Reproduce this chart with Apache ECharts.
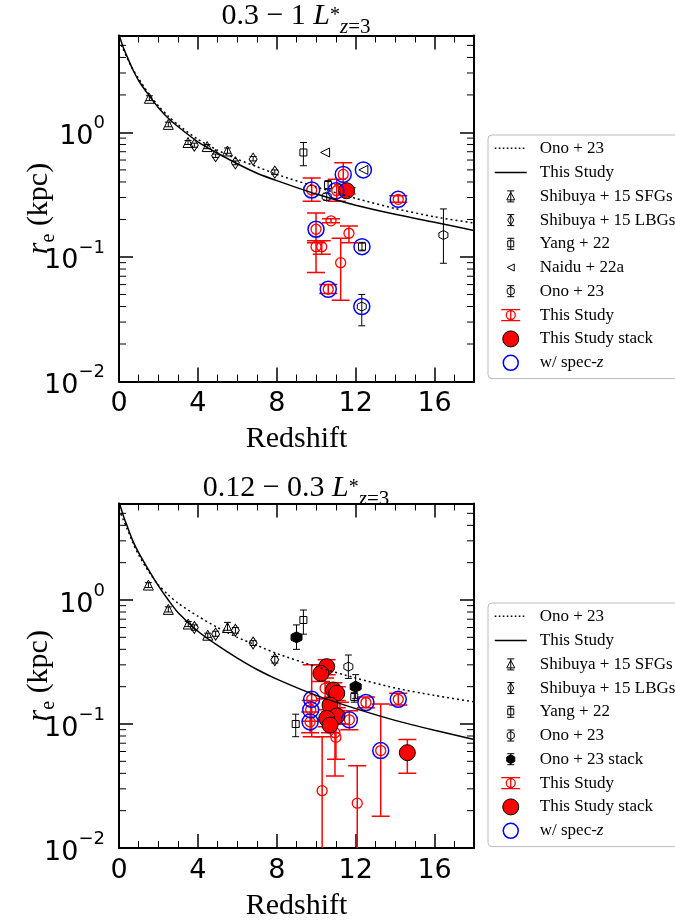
<!DOCTYPE html>
<html><head><meta charset="utf-8">
<script src="https://cdn.jsdelivr.net/npm/echarts@6/dist/echarts.min.js"></script>
<style>html,body{margin:0;padding:0;background:#fff}#c{width:675px;height:922px}</style>
</head><body><div id="c"></div>
<script>
// ---------- data ----------
const curveZ = [0, 0.2, 0.4, 0.7, 1, 1.5, 2, 2.5, 3, 4, 5, 6, 7, 8, 10, 12, 14, 16, 18];
// panel A : 0.3 - 1 L*
const A_thisCurve = [6.1, 4.9, 4.1, 3.2, 2.6, 2.0, 1.58, 1.30, 1.11, 0.84, 0.68, 0.56, 0.47, 0.41, 0.32, 0.26, 0.22, 0.19, 0.163];
const A_onoCurve  = [5.5, 4.7, 4.0, 3.2, 2.7, 2.05, 1.63, 1.35, 1.15, 0.88, 0.72, 0.61, 0.53, 0.46, 0.365, 0.295, 0.245, 0.21, 0.187];
const A_shibuyaSFG = [[1.54,1.88,1.80,1.97],[2.5,1.16,1.11,1.21],[3.5,0.83,0.80,0.86],[4.47,0.77,0.74,0.80],[5.5,0.71,0.68,0.75]];
const A_shibuyaLBG = [[3.82,0.79,0.76,0.82],[4.9,0.65,0.63,0.67],[5.9,0.57,0.55,0.59],[6.8,0.61,0.59,0.64],[7.9,0.48,0.46,0.50]];
const A_yang  = [[9.35,0.69,0.54,0.83],[10.6,0.378,0.35,0.41],[12.32,0.121,0.112,0.131]];
const A_naidu = [[10.45,0.69],[12.39,0.50]];
const A_ono   = [[10.53,0.305,0.285,0.325],[12.31,0.040,0.028,0.050],[16.45,0.15,0.089,0.243]];
const A_this  = [[9.77,0.345,0.28,0.43],[11.37,0.46,0.38,0.57],[11.04,0.34,0.28,0.42],[14.16,0.29,0.275,0.31],
                 [9.99,0.167,0.13,0.225],[9.99,0.121,0.075,0.135],[10.28,0.121,0.105,0.135],[10.75,0.195,0.188,0.203],
                 [11.66,0.155,0.13,0.177],[11.24,0.09,0.045,0.141],[10.61,0.055,0.051,0.06]];
const A_stack = [[11.54,0.34,0.32,0.36]];
const A_specz = [[9.77,0.345],[11.37,0.46],[11.0,0.34],[14.16,0.29],[9.99,0.167],[10.61,0.055],[12.39,0.50],[12.32,0.121],[12.31,0.040]];
// panel B : 0.12 - 0.3 L*
const B_thisCurve = [6.2, 4.9, 4.0, 3.0, 2.4, 1.75, 1.3, 1.0, 0.79, 0.56, 0.43, 0.34, 0.275, 0.23, 0.17, 0.133, 0.107, 0.089, 0.075];
const B_onoCurve  = [5.4, 4.5, 3.8, 2.9, 2.3, 1.7, 1.32, 1.1, 0.94, 0.74, 0.6, 0.5, 0.43, 0.37, 0.29, 0.235, 0.195, 0.17, 0.151];
const B_shibuyaSFG = [[1.49,1.32,1.26,1.38],[2.5,0.84,0.80,0.88],[3.51,0.64,0.61,0.67],[4.5,0.52,0.50,0.54],[5.5,0.60,0.57,0.66]];
const B_shibuyaLBG = [[3.82,0.60,0.57,0.63],[4.9,0.53,0.51,0.56],[5.9,0.57,0.54,0.60],[6.8,0.45,0.43,0.47],[7.9,0.33,0.31,0.35]];
const B_yang  = [[9.35,0.69,0.53,0.83],[8.96,0.10,0.079,0.12],[11.93,0.165,0.15,0.18]];
const B_ono   = [[11.63,0.29,0.233,0.36]];
const B_onoStack = [[9.0,0.50,0.40,0.63],[12.0,0.20,0.16,0.25]];
const B_this  = [[9.77,0.158,0.079,0.30],[9.72,0.13,0.105,0.155],[9.69,0.104,0.085,0.125],[10.45,0.194,0.16,0.235],
                 [10.3,0.029,0.001,0.079],[11.0,0.078,0.052,0.10],[10.95,0.085,0.038,0.11],[11.68,0.108,0.09,0.128],
                 [12.52,0.149,0.135,0.165],[14.16,0.158,0.142,0.177],[13.27,0.061,0.018,0.145],[12.08,0.023,0.001,0.046],
                 [11.2,0.12,0.10,0.15]];
const B_stack = [[10.53,0.29,0.25,0.33],[10.24,0.256,0.22,0.30],[10.87,0.188,0.165,0.215],[11.04,0.177,0.155,0.20],
                 [10.7,0.142,0.125,0.16],[11.04,0.116,0.10,0.135],[10.53,0.111,0.095,0.13],[10.7,0.098,0.085,0.115],
                 [14.62,0.0587,0.040,0.075]];
const B_specz = [[9.77,0.158],[9.72,0.13],[9.69,0.104],[11.68,0.108],[12.52,0.149],[14.16,0.158],[13.27,0.061]];
const xTickLabels = ['0','4','8','12','16'];
const minorMantissa = [2,3,4,5,6,7,8,9];
const decades = [0.01, 0.1, 1];

// ---------- styling ----------
const SERIF = "'Liberation Serif','Times New Roman',serif";
const SANS = "'DejaVu Sans',sans-serif";
const RED = '#ff0000', BLUE = '#0000ff', TR = 'rgba(0,0,0,0)';
const HEX = 'path://M0,-1L0.866,-0.5L0.866,0.5L0,1L-0.866,0.5L-0.866,-0.5Z';
const BOX = 'M0 0M34 18';
const EB = 'M13.5 3.5L20.5 3.5M17 3.5L17 14.5M13.5 14.5L20.5 14.5';
const EBR = 'M7.5 3.5L26.5 3.5M17 3.5L17 14.5M7.5 14.5L26.5 14.5';
let DOTS = '';
for (let x = 1; x < 33; x += 4) DOTS += 'M' + x + ' 9L' + (x + 1.6) + ' 9';
const IC = {
  dotted: 'path://' + BOX + DOTS,
  solid: 'path://' + BOX + 'M1 9L33 9',
  sfg: 'path://' + BOX + EB + 'M17 5L21 12.5L13 12.5Z',
  lbg: 'path://' + BOX + EB + 'M17 4L20 9L17 14L14 9Z',
  yang: 'path://' + BOX + EB + 'M14 6L20 6L20 12L14 12Z',
  naidu: 'path://' + BOX + 'M20.5 5.5L13.5 9L20.5 12.5Z',
  ono: 'path://' + BOX + EB + 'M17 5L20.5 7L20.5 11L17 13L13.5 11L13.5 7Z',
  onoStack: 'path://' + BOX + EB + 'M17 4.5L21 6.8L21 11.2L17 13.5L13 11.2L13 6.8Z',
  thisS: 'path://' + BOX + EBR + 'M21.5 9A4.5 4.5 0 1 1 12.5 9A4.5 4.5 0 1 1 21.5 9Z',
  stack: 'path://' + BOX + 'M25 9A8 8 0 1 1 9 9A8 8 0 1 1 25 9Z',
  specz: 'path://' + BOX + 'M24.5 9A7.5 7.5 0 1 1 9.5 9A7.5 7.5 0 1 1 24.5 9Z'
};
const LABELS = {
  onoC: 'Ono + 23', thisC: 'This Study', sfg: 'Shibuya + 15 SFGs', lbg: 'Shibuya + 15 LBGs', yang: 'Yang + 22',
  naidu: 'Naidu + 22a', ono: 'Ono + 23', onoStack: 'Ono + 23 stack', thisS: 'This Study', stack: 'This Study stack',
  specz: 'w/ spec-{i|z}'
};

function ebSeries(id, g, data, color, cap, lw) {
  return {
    type: 'custom', id: id, name: id, xAxisIndex: 2 * g, yAxisIndex: 2 * g, clip: true, silent: true,
    data: data.map(d => [d[0], d[2], d[3]]), encode: { x: 0, y: [1, 2] },
    renderItem: function (params, api) {
      const x = api.value(0);
      const p1 = api.coord([x, api.value(1)]), p2 = api.coord([x, api.value(2)]);
      const st = { stroke: color, lineWidth: lw };
      return { type: 'group', children: [
        { type: 'line', shape: { x1: p1[0], y1: p1[1], x2: p2[0], y2: p2[1] }, style: st },
        { type: 'line', shape: { x1: p1[0] - cap, y1: p1[1], x2: p1[0] + cap, y2: p1[1] }, style: st },
        { type: 'line', shape: { x1: p2[0] - cap, y1: p2[1], x2: p2[0] + cap, y2: p2[1] }, style: st }
      ]};
    }
  };
}
function scSeries(id, g, data, symbol, size, fill, stroke, bw, rot) {
  return {
    type: 'scatter', id: id, name: id, xAxisIndex: 2 * g, yAxisIndex: 2 * g, silent: true,
    data: data.map(d => [d[0], d[1]]), symbol: symbol, symbolSize: size, symbolRotate: rot || 0,
    itemStyle: { color: fill, borderColor: stroke, borderWidth: bw, opacity: 1 }
  };
}
function lineSeries(id, g, vals, dotted) {
  return {
    type: 'line', id: id, name: id, xAxisIndex: 2 * g, yAxisIndex: 2 * g, silent: true, symbol: 'none',
    smooth: 0.25, clip: true, data: curveZ.map((z, i) => [z, vals[i]]),
    lineStyle: { color: '#000', width: 1.5, type: dotted ? [2, 3] : 'solid' }, itemStyle: { color: '#000' }
  };
}
function minorTickSeries(id, g) {
  const vals = [];
  decades.forEach(d => minorMantissa.forEach(m => { if (m * d <= 6) vals.push([0, m * d]); }));
  return {
    type: 'custom', id: id, xAxisIndex: 2 * g, yAxisIndex: 2 * g, silent: true, clip: false, data: vals,
    encode: { x: 0, y: 1 },
    renderItem: function (params, api) {
      const v = api.value(1);
      const l = api.coord([0, v]), r = api.coord([18, v]);
      const st = { stroke: '#000', lineWidth: 1 };
      return { type: 'group', children: [
        { type: 'line', shape: { x1: l[0], y1: l[1], x2: l[0] + 7, y2: l[1] }, style: st },
        { type: 'line', shape: { x1: r[0] - 7, y1: r[1], x2: r[0], y2: r[1] }, style: st }
      ]};
    }
  };
}
function yFmt(v) {
  const e = Math.round(Math.log10(v));
  if (Math.abs(v / Math.pow(10, e) - 1) > 1e-6) return '';
  return '{b|10}{s|' + (e < 0 ? '\u2212' + (-e) : e) + '}';
}
const yRich = {
  b: { fontFamily: SANS, fontSize: 27, color: '#000', lineHeight: 36, verticalAlign: 'bottom' },
  s: { fontFamily: SANS, fontSize: 18, color: '#000', lineHeight: 36, verticalAlign: 'top', padding: [0, 0, 8, 0] }
};
function xAxes(g) {
  const base = {
    gridIndex: g, type: 'value', min: 0, max: 18, interval: 4,
    axisLine: { show: true, onZero: false, lineStyle: { color: '#000', width: 2 } },
    axisTick: { show: true, inside: true, length: 14, lineStyle: { color: '#000', width: 1.5 } },
    minorTick: { show: true, splitNumber: 4, length: 7, lineStyle: { color: '#000', width: 1 } },
    splitLine: { show: false }, minorSplitLine: { show: false }
  };
  return [
    Object.assign({}, base, { position: 'bottom',
      axisLabel: { margin: 9, fontFamily: SANS, fontSize: 27, color: '#000', showMaxLabel: false,
        formatter: v => { const s = String(v); return xTickLabels.indexOf(s) >= 0 ? s : ''; } },
      name: 'Redshift', nameLocation: 'middle', nameGap: 43, nameMoveOverlap: false,
      nameTextStyle: { fontFamily: SERIF, fontSize: 30, color: '#000' } }),
    Object.assign({}, base, { position: 'top', axisLabel: { show: false } })
  ];
}
function yAxes(g) {
  const base = {
    gridIndex: g, type: 'log', logBase: 10, min: 0.01, max: 6,
    axisLine: { show: true, onZero: false, lineStyle: { color: '#000', width: 2 } },
    axisTick: { show: true, inside: true, length: 14, lineStyle: { color: '#000', width: 1.5 } },
    splitLine: { show: false }
  };
  return [
    Object.assign({}, base, { position: 'left',
      axisLabel: { margin: 14, formatter: yFmt, rich: yRich, showMaxLabel: false },
      name: '{r|r}{e|e}{n| (kpc)}', nameLocation: 'middle', nameGap: 60, nameRotate: 90, nameMoveOverlap: false,
      nameTextStyle: { rich: {
        r: { fontFamily: SERIF, fontSize: 30, fontStyle: 'italic', color: '#000', lineHeight: 40 },
        e: { fontFamily: SERIF, fontSize: 20, color: '#000', lineHeight: 20, verticalAlign: 'bottom' },
        n: { fontFamily: SERIF, fontSize: 30, color: '#000', lineHeight: 40 } } } }),
    Object.assign({}, base, { position: 'right', axisLabel: { show: false } })
  ];
}
function legend(g, top, items) {
  return {
    orient: 'vertical', left: 488, top: top, itemWidth: 34, itemHeight: 18, itemGap: 4.7,
    padding: [3.5, 12, 6, 5], backgroundColor: '#fff', borderColor: '#bbb', borderWidth: 1, borderRadius: 4,
    selectedMode: false, symbolKeepAspect: true,
    textStyle: { fontFamily: SERIF, fontSize: 17, color: '#000', padding: [0, 0, 0, 7],
      rich: { i: { fontFamily: SERIF, fontSize: 17, fontStyle: 'italic', color: '#000' } } },
    formatter: name => LABELS[name.split('_')[1]],
    data: items
  };
}
function blackItem(p, key) { return { name: p + '_' + key, icon: IC[key], itemStyle: { color: TR, borderColor: '#000', borderWidth: 1 } }; }
function lineItem(p, key, ic) { return { name: p + '_' + key, icon: IC[ic], itemStyle: { color: TR, borderColor: '#000', borderWidth: 1.5 }, lineStyle: { width: 0, opacity: 0 } }; }
function titleText(a) {
  return '{n|' + a + ' }{L|L}{sup|*}{zi|z}{sub|=3}';
}
const titleRich = {
  n: { fontFamily: SERIF, fontSize: 30, fontWeight: 'normal', color: '#000', lineHeight: 44 },
  L: { fontFamily: SERIF, fontSize: 30, fontWeight: 'normal', fontStyle: 'italic', color: '#000', lineHeight: 44 },
  sup: { fontFamily: SERIF, fontSize: 20, fontWeight: 'normal', color: '#000', lineHeight: 44, verticalAlign: 'middle' },
  zi: { fontFamily: SERIF, fontSize: 21, fontWeight: 'normal', fontStyle: 'italic', color: '#000', lineHeight: 21, verticalAlign: 'bottom' },
  sub: { fontFamily: SERIF, fontSize: 21, fontWeight: 'normal', color: '#000', lineHeight: 21, verticalAlign: 'bottom' }
};

const series = [
  // panel A
  minorTickSeries('A_minor', 0),
  lineSeries('A_onoC', 0, A_onoCurve, true),
  lineSeries('A_thisC', 0, A_thisCurve, false),
  ebSeries('A_sfgErr', 0, A_shibuyaSFG, '#000', 3.5, 1),
  scSeries('A_sfg', 0, A_shibuyaSFG, 'triangle', 10, TR, '#000', 1),
  ebSeries('A_lbgErr', 0, A_shibuyaLBG, '#000', 3.5, 1),
  scSeries('A_lbg', 0, A_shibuyaLBG, 'diamond', [8, 12], TR, '#000', 1),
  ebSeries('A_yangErr', 0, A_yang, '#000', 3.5, 1),
  scSeries('A_yang', 0, A_yang, 'rect', 7, TR, '#000', 1),
  scSeries('A_naidu', 0, A_naidu, 'triangle', 9, TR, '#000', 1, 90),
  ebSeries('A_onoErr', 0, A_ono, '#000', 3.5, 1),
  scSeries('A_ono', 0, A_ono, HEX, 9, TR, '#000', 1),
  ebSeries('A_thisErr', 0, A_this, RED, 9, 1.5),
  scSeries('A_thisS', 0, A_this, 'circle', 10, TR, RED, 1.3),
  ebSeries('A_stackErr', 0, A_stack, RED, 9, 1.5),
  scSeries('A_stack', 0, A_stack, 'circle', 16, RED, '#000', 1),
  scSeries('A_specz', 0, A_specz, 'circle', 16, TR, BLUE, 1.5),
  // panel B
  minorTickSeries('B_minor', 1),
  lineSeries('B_onoC', 1, B_onoCurve, true),
  lineSeries('B_thisC', 1, B_thisCurve, false),
  ebSeries('B_sfgErr', 1, B_shibuyaSFG, '#000', 3.5, 1),
  scSeries('B_sfg', 1, B_shibuyaSFG, 'triangle', 10, TR, '#000', 1),
  ebSeries('B_lbgErr', 1, B_shibuyaLBG, '#000', 3.5, 1),
  scSeries('B_lbg', 1, B_shibuyaLBG, 'diamond', [8, 12], TR, '#000', 1),
  ebSeries('B_yangErr', 1, B_yang, '#000', 3.5, 1),
  scSeries('B_yang', 1, B_yang, 'rect', 7, TR, '#000', 1),
  ebSeries('B_onoErr', 1, B_ono, '#000', 3.5, 1),
  scSeries('B_ono', 1, B_ono, HEX, 9, TR, '#000', 1),
  ebSeries('B_onoStackErr', 1, B_onoStack, '#000', 3.5, 1),
  scSeries('B_onoStack', 1, B_onoStack, HEX, 11, '#000', '#000', 1),
  ebSeries('B_thisErr', 1, B_this, RED, 9, 1.5),
  scSeries('B_thisS', 1, B_this, 'circle', 10, TR, RED, 1.3),
  ebSeries('B_stackErr', 1, B_stack, RED, 9, 1.5),
  scSeries('B_stack', 1, B_stack, 'circle', 16, RED, '#000', 1),
  scSeries('B_specz', 1, B_specz, 'circle', 16, TR, BLUE, 1.5)
];

const option = {
  animation: false,
  backgroundColor: '#fff',
  title: [
    { text: titleText('0.3 \u2212 1'), left: 296, top: -6, textAlign: 'center', padding: 0,
      textStyle: { fontWeight: 'normal', rich: titleRich } },
    { text: titleText('0.12 \u2212 0.3'), left: 296, top: 466, textAlign: 'center', padding: 0,
      textStyle: { fontWeight: 'normal', rich: titleRich } }
  ],
  grid: [
    { left: 119, top: 35.5, width: 355, height: 346, containLabel: false, outerBoundsMode: 'none' },
    { left: 119, top: 503.5, width: 355, height: 344.5, containLabel: false, outerBoundsMode: 'none' }
  ],
  xAxis: xAxes(0).concat(xAxes(1)),
  yAxis: yAxes(0).concat(yAxes(1)),
  legend: [
    legend(0, 135, [
      lineItem('A', 'onoC', 'dotted'), lineItem('A', 'thisC', 'solid'),
      blackItem('A', 'sfg'), blackItem('A', 'lbg'), blackItem('A', 'yang'), blackItem('A', 'naidu'), blackItem('A', 'ono'),
      { name: 'A_thisS', icon: IC.thisS, itemStyle: { color: TR, borderColor: RED, borderWidth: 1.3 } },
      { name: 'A_stack', icon: IC.stack, itemStyle: { color: RED, borderColor: '#000', borderWidth: 1 } },
      { name: 'A_specz', icon: IC.specz, itemStyle: { color: TR, borderColor: BLUE, borderWidth: 1.5 } }
    ]),
    legend(1, 603, [
      lineItem('B', 'onoC', 'dotted'), lineItem('B', 'thisC', 'solid'),
      blackItem('B', 'sfg'), blackItem('B', 'lbg'), blackItem('B', 'yang'), blackItem('B', 'ono'),
      { name: 'B_onoStack', icon: IC.onoStack, itemStyle: { color: '#000', borderColor: '#000', borderWidth: 1 } },
      { name: 'B_thisS', icon: IC.thisS, itemStyle: { color: TR, borderColor: RED, borderWidth: 1.3 } },
      { name: 'B_stack', icon: IC.stack, itemStyle: { color: RED, borderColor: '#000', borderWidth: 1 } },
      { name: 'B_specz', icon: IC.specz, itemStyle: { color: TR, borderColor: BLUE, borderWidth: 1.5 } }
    ])
  ],
  series: series
};
const chart = echarts.init(document.getElementById('c'), null, { renderer: 'canvas' });
chart.setOption(option);
</script></body></html>
